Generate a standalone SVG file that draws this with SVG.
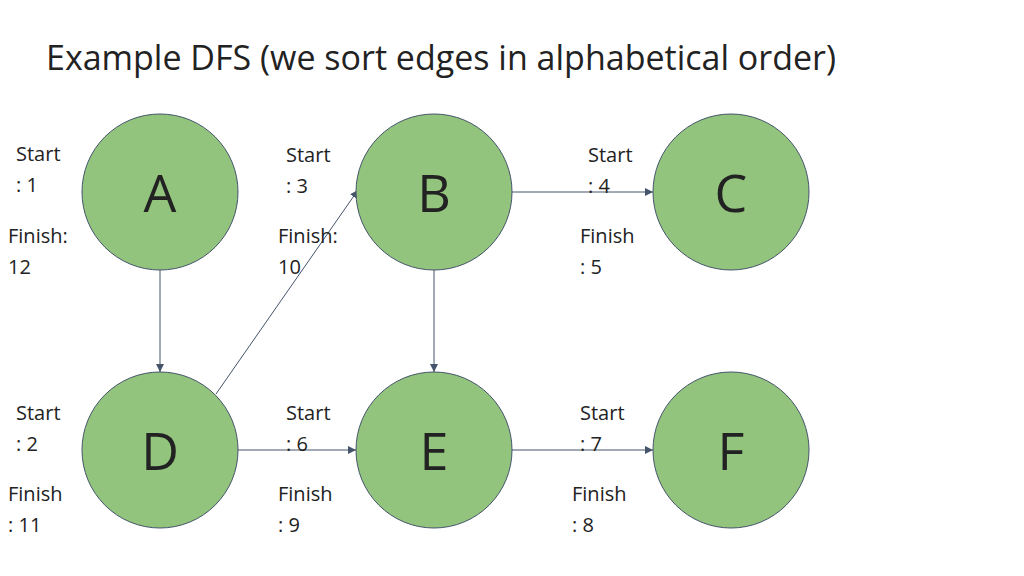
<svg xmlns="http://www.w3.org/2000/svg" width="1024" height="576" viewBox="0 0 1024 576">
<style>
text{font-family:"Open Sans","Liberation Sans",sans-serif;fill:#222}
.n circle{fill:#93c47d;stroke:#44546a;stroke-width:1}
.n text{font-size:52px;text-anchor:middle}
.l{font-size:20px}
.e line{stroke:#44546a;stroke-width:1;marker-end:url(#ah)}
</style>
<defs><marker id="ah" viewBox="0 0 10 10" refX="10" refY="5" markerWidth="8" markerHeight="8" orient="auto" markerUnits="userSpaceOnUse"><path d="M0,0L10,5L0,10z" fill="#44546a"/></marker></defs>
<rect width="1024" height="576" fill="#fff"/>
<text x="46" y="70" font-size="34">Example DFS (we sort edges in alphabetical order)</text>
<g class="e">
<line x1="160" y1="270" x2="160" y2="372"/>
<line x1="216" y1="394" x2="358" y2="190"/>
<line x1="238" y1="450" x2="356" y2="450"/>
<line x1="512" y1="192" x2="653" y2="192"/>
<line x1="434" y1="270" x2="434" y2="372"/>
<line x1="512" y1="450" x2="653" y2="450"/>
</g>
<g id="A" class="n"><circle cx="160" cy="192" r="78"/><text x="160" y="212">A</text></g>
<g id="B" class="n"><circle cx="434" cy="192" r="78"/><text x="434" y="212">B</text></g>
<g id="C" class="n"><circle cx="731" cy="192" r="78"/><text x="731" y="212">C</text></g>
<g id="D" class="n"><circle cx="160" cy="450" r="78"/><text x="160" y="470">D</text></g>
<g id="E" class="n"><circle cx="434" cy="450" r="78"/><text x="434" y="470">E</text></g>
<g id="F" class="n"><circle cx="731" cy="450" r="78"/><text x="731" y="470">F</text></g>
<g class="l">
<text x="16" y="161">Start</text><text x="16" y="192">: 1</text><text x="8" y="243">Finish:</text><text x="8" y="274">12</text>
<text x="286" y="162">Start</text><text x="286" y="193">: 3</text><text x="278" y="243">Finish:</text><text x="278" y="274">10</text>
<text x="588" y="162">Start</text><text x="588" y="193">: 4</text><text x="580" y="243">Finish</text><text x="580" y="274">: 5</text>
<text x="16" y="420">Start</text><text x="16" y="451">: 2</text><text x="8" y="501">Finish</text><text x="8" y="532">: 11</text>
<text x="286" y="420">Start</text><text x="286" y="451">: 6</text><text x="278" y="501">Finish</text><text x="278" y="532">: 9</text>
<text x="580" y="420">Start</text><text x="580" y="451">: 7</text><text x="572" y="501">Finish</text><text x="572" y="532">: 8</text>
</g>
</svg>
